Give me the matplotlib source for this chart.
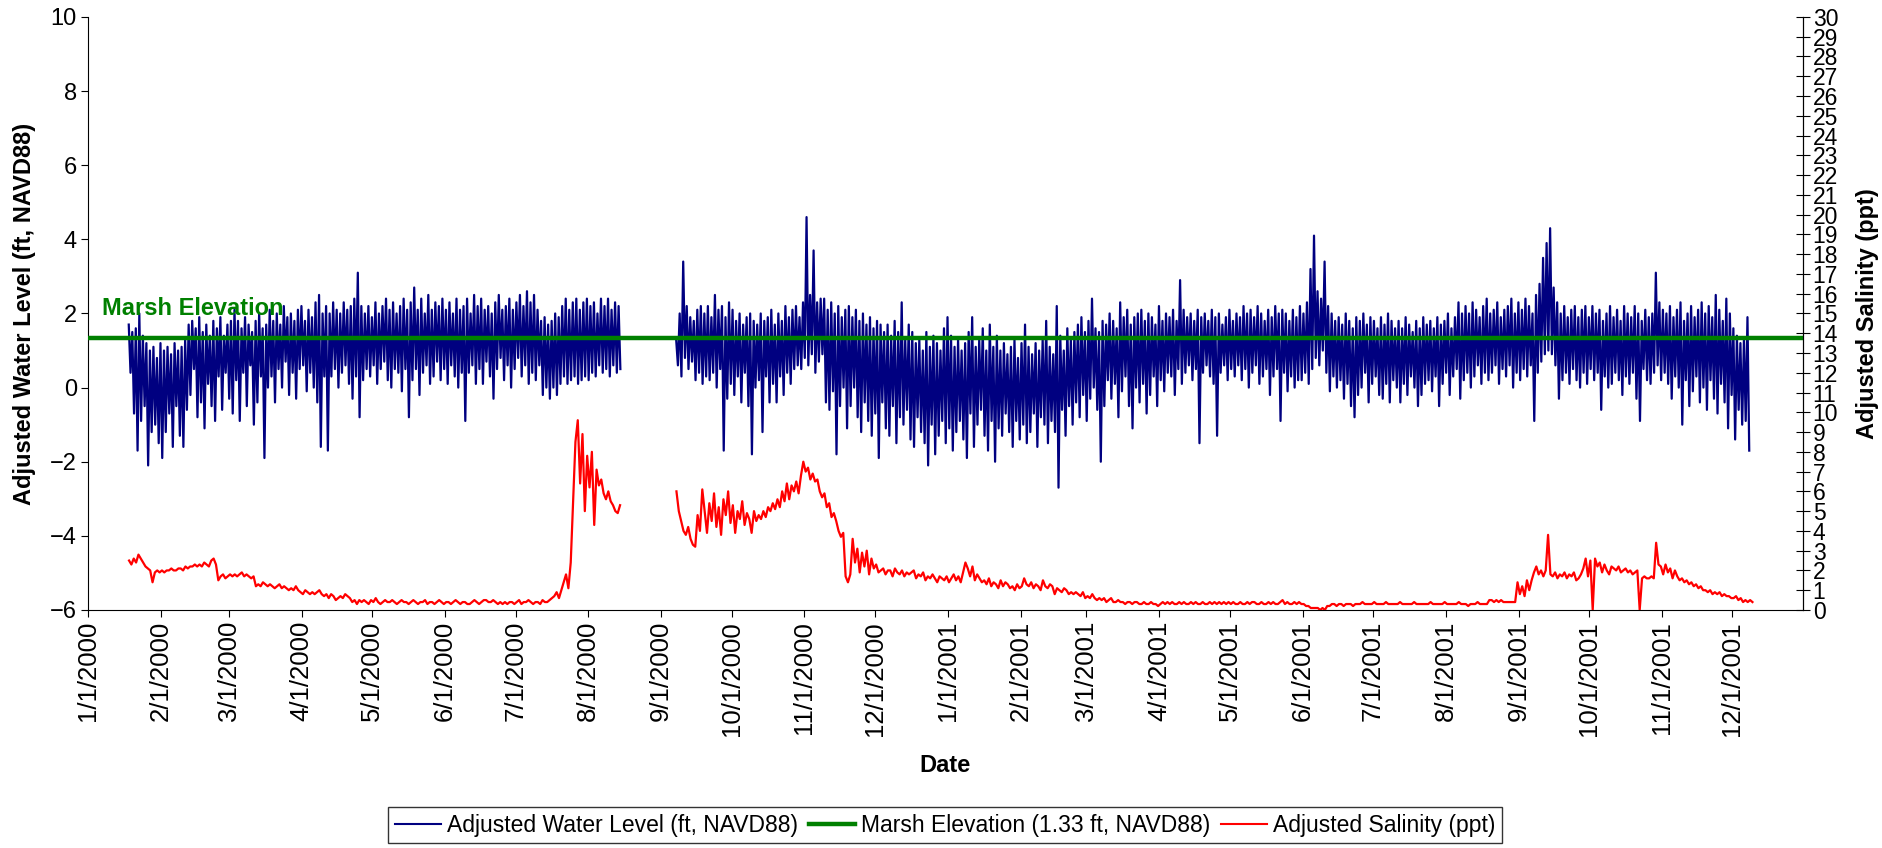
import numpy as np
import matplotlib
matplotlib.use('Agg')
import matplotlib.pyplot as plt
import matplotlib.dates as mdates
from matplotlib.lines import Line2D
from matplotlib.ticker import FuncFormatter, MultipleLocator

plt.rcParams['font.family'] = ['Liberation Sans', 'DejaVu Sans']

# ---- water level (ft, NAVD88): one high and one low per 36-hour block ----
wl1_start = '2000-01-18'
wl1_high = [
    1.7, 1.5, 1.6, 2.0, 1.4, 1.2, 1.0, 1.1, 0.8, 1.2, 1.0, 1.1, 0.9, 1.2, 1.0, 1.1, 1.3, 1.7, 1.8, 1.6,
    1.9, 1.5, 1.7, 1.4, 1.8, 1.6, 1.9, 1.4, 1.7, 1.8, 2.1, 1.8, 1.6, 1.9, 1.7, 1.5, 1.8, 2.0, 1.6, 1.7,
    2.1, 1.8, 2.0, 1.7, 2.2, 1.9, 2.0, 1.8, 2.1, 2.2, 1.8, 2.1, 1.9, 2.3, 2.5, 2.0, 2.2, 2.0, 2.3, 2.1,
    2.0, 2.3, 2.1, 2.2, 2.4, 3.1, 2.2, 2.0, 2.2, 1.9, 2.3, 2.0, 2.2, 2.4, 2.1, 2.3, 2.0, 2.2, 2.4, 2.1,
    2.3, 2.7, 2.1, 2.4, 2.0, 2.5, 2.1, 2.3, 2.2, 2.4, 2.1, 2.3, 2.0, 2.4, 2.1, 2.2, 2.4, 2.0, 2.5, 2.2,
    2.4, 2.1, 2.2, 2.0, 2.3, 2.5, 2.1, 2.2, 2.4, 2.1, 2.3, 2.5, 2.2, 2.6, 2.3, 2.5, 2.1, 1.8, 1.9, 1.7,
    1.8, 2.0, 1.9, 2.2, 2.4, 2.1, 2.3, 2.4, 2.1, 2.3, 2.4, 2.2, 2.3, 2.0, 2.4, 2.2, 2.4, 2.1, 2.3, 2.2,
]
wl1_low = [
    0.4, -0.7, -1.7, -0.9, -0.5, -2.1, -1.2, -1.0, -1.5, -1.9, -1.2, -0.7, -1.6, -0.5, -1.3, -1.6, -0.6, -0.2, 0.5, -0.8,
    -0.4, -1.1, 0.1, -0.5, -0.9, 0.3, -0.6, 0.4, -0.3, -0.7, 0.2, -0.9, 0.4, -0.5, 0.6, -1.0, -0.4, 0.3, -1.9, 0.0,
    0.3, -0.4, 0.5, 0.0, 0.7, -0.2, 0.4, -0.3, 0.5, 0.6, -0.1, 0.4, 0.0, -0.4, -1.6, 0.3, -1.7, 0.3, 0.5, 0.0,
    0.4, 0.6, 0.1, -0.3, 0.3, -0.8, 0.2, 0.5, 0.3, 0.6, 0.1, 0.5, 0.7, 0.2, 0.0, 0.5, 0.4, -0.1, 0.5, -0.8,
    0.2, 0.5, -0.2, 0.4, 0.6, 0.1, 0.3, 0.7, 0.2, 0.5, 0.1, 0.6, 0.3, 0.0, 0.4, -0.9, 0.4, 0.6, 0.1, 0.5,
    0.1, 0.7, 0.3, -0.3, 0.5, 0.8, 0.2, 0.6, 0.0, 0.5, 0.8, 0.3, 0.6, 0.1, 0.4, 0.2, 0.6, -0.2, 0.0, -0.3,
    0.0, -0.2, 0.1, 0.3, 0.1, 0.2, 0.3, 0.1, 0.2, 0.3, 0.2, 0.4, 0.3, 0.6, 0.4, 0.5, 0.3, 0.6, 0.4, 0.5,
]

wl2_start = '2000-09-07'
wl2_high = [
    1.3, 2.0, 3.4, 2.2, 1.9, 1.8, 2.1, 2.2, 2.0, 2.2, 1.9, 2.5, 2.1, 2.2, 1.9, 2.3, 2.1, 1.8, 2.0, 1.7,
    1.9, 2.0, 1.8, 1.7, 2.0, 1.8, 1.9, 2.1, 1.7, 2.0, 1.8, 2.2, 1.9, 2.1, 2.2, 1.9, 2.3, 4.6, 2.5, 3.7,
    2.3, 2.4, 2.4, 2.1, 2.3, 2.0, 2.2, 1.9, 2.1, 2.2, 1.9, 2.1, 1.8, 2.0, 1.7, 1.9, 1.6, 1.8, 1.7, 1.5,
    1.7, 1.4, 1.8, 1.5, 2.3, 1.3, 1.7, 1.5, 1.2, 1.3, 1.0, 1.5, 1.1, 1.4, 1.2, 1.0, 1.6, 1.9, 1.4, 1.1,
    1.3, 1.0, 1.2, 1.5, 1.9, 1.1, 1.3, 1.6, 1.0, 1.7, 1.1, 1.4, 1.0, 1.2, 0.9, 1.1, 1.3, 0.8, 1.2, 1.7,
    1.1, 0.9, 1.2, 1.0, 1.3, 1.8, 1.1, 0.9, 2.2, 1.4, 1.0, 1.6, 1.3, 1.5, 1.7, 1.9, 1.5, 1.8, 2.4, 1.6,
    1.5, 1.8, 1.7, 2.0, 1.8, 1.6, 2.3, 1.9, 2.1, 1.7, 1.9, 2.0, 2.1, 1.8, 2.0, 1.9, 1.7, 2.2, 1.8, 2.0,
    1.9, 2.1, 1.8, 2.9, 2.1, 1.9, 2.0, 1.8, 2.1, 1.9, 2.0, 1.8, 2.1, 1.9, 2.0, 1.7, 1.9, 2.1, 1.8, 2.0,
    1.9, 2.2, 2.0, 2.1, 1.9, 2.2, 2.0, 1.8, 2.1, 1.9, 2.2, 2.0, 2.1, 2.0, 1.8, 2.1, 1.9, 2.2, 2.0, 2.3,
    3.2, 4.1, 2.6, 2.4, 3.4, 2.2, 2.0, 1.8, 1.9, 1.7, 2.0, 1.8, 1.6, 1.9, 1.8, 2.0, 1.7, 1.9, 1.8, 1.6,
    1.9, 1.7, 2.0, 1.8, 1.6, 1.8, 1.6, 1.9, 1.7, 1.5, 1.8, 1.6, 1.9, 1.7, 1.8, 1.6, 1.9, 1.7, 1.8, 2.0,
    1.6, 1.9, 2.3, 2.0, 2.2, 2.0, 2.3, 2.1, 1.9, 2.2, 2.4, 2.0, 2.1, 2.3, 1.9, 2.1, 2.2, 2.4, 2.0, 2.3,
    2.1, 2.4, 2.2, 2.0, 2.5, 2.8, 3.5, 3.9, 4.3, 2.7, 2.3, 2.0, 2.2, 1.9, 2.1, 2.2, 1.9, 2.1, 2.2, 1.9,
    2.2, 2.0, 2.1, 1.8, 2.0, 2.2, 1.9, 2.1, 1.8, 2.2, 2.0, 1.9, 2.2, 2.0, 1.8, 2.1, 1.9, 2.0, 3.1, 2.3,
    2.1, 2.0, 2.2, 1.9, 2.1, 2.3, 1.8, 2.0, 2.2, 1.9, 2.1, 2.3, 2.0, 2.2, 1.9, 2.5, 2.1, 1.8, 2.4, 2.0,
    1.6, 1.4, 1.2, 1.3, 1.9,
]
wl2_low = [
    0.6, 0.3, 0.8, 0.5, 0.7, 0.2, 0.4, 0.1, 0.3, 0.2, 0.4, 0.0, 0.5, -1.7, -0.3, 0.1, -0.2, 0.3, -0.4, 0.4,
    -0.5, -1.8, 0.0, 0.2, -1.2, 0.3, -0.4, 0.1, -0.4, 0.3, -0.2, 0.4, 0.1, 0.5, 0.6, 0.5, 0.8, 0.6, 0.9, 0.4,
    0.7, 0.9, -0.4, -0.6, -0.1, -1.8, -0.5, 0.0, -1.1, -0.5, 0.0, -0.8, -1.2, -0.4, -0.9, -1.3, -0.7, -1.9, -0.4, -1.1,
    -1.3, -0.5, -1.5, -0.8, -1.0, -0.6, -1.4, -1.6, -0.8, -1.2, -1.5, -2.1, -1.0, -1.8, -1.3, -0.9, -1.5, -1.1, -1.7, -1.2,
    -0.9, -1.4, -1.9, -0.7, -1.6, -1.0, -0.6, -1.3, -1.7, -0.9, -2.0, -1.1, -1.3, -0.7, -1.2, -1.6, -0.9, -1.4, -1.0, -1.5,
    -1.2, -0.7, -1.6, -0.8, -1.0, -1.5, -0.9, -1.2, -2.7, -0.6, -1.3, -0.5, -1.0, -0.4, -0.8, -0.2, -0.9, -0.3, 0.0, -0.6,
    -2.0, -0.5, 0.2, -0.3, 0.1, -0.8, -0.1, 0.3, -0.5, -1.1, 0.0, -0.4, 0.1, -0.7, -0.2, 0.3, -0.5, 0.2, -0.1, 0.4,
    0.3, -0.2, 0.5, 0.1, 0.4, 0.6, 0.2, 0.5, -1.5, 0.4, 0.6, 0.3, 0.1, -1.3, 0.4, 0.6, 0.2, 0.5, 0.3, 0.6,
    0.2, 0.5, 0.0, 0.4, 0.6, 0.1, 0.3, 0.5, -0.2, 0.3, 0.5, -0.9, 0.4, -0.1, 0.3, 0.0, 0.2, 0.2, 0.4, 0.1,
    0.5, 0.8, 0.6, 1.0, 0.4, -0.1, 0.3, 0.0, 0.2, -0.3, 0.1, -0.5, -0.8, -0.2, 0.0, 0.4, -0.4, 0.1, 0.3, -0.2,
    -0.3, 0.1, -0.4, 0.2, 0.0, -0.4, 0.1, -0.2, 0.3, 0.0, -0.5, -0.2, 0.1, 0.2, -0.1, 0.3, -0.5, 0.1, 0.4, -0.2,
    0.3, 0.5, -0.3, 0.2, 0.4, 0.0, 0.3, 0.6, 0.1, 0.4, 0.2, 0.4, 0.6, 0.1, 0.5, 0.3, 0.6, 0.0, 0.4, 0.2,
    0.5, 0.3, 0.6, -0.9, 0.4, 0.7, 0.9, 1.0, 0.9, 0.6, -0.3, 0.2, 0.4, 0.1, 0.5, 0.2, 0.0, 0.4, 0.1, 0.5,
    0.2, 0.4, -0.6, 0.3, 0.0, 0.1, 0.4, 0.2, -0.2, 0.3, 0.1, 0.4, -0.3, -0.9, 0.5, 0.2, 0.1, 0.4, 0.6, 0.2,
    0.4, 0.1, -0.3, 0.3, 0.0, -1.0, 0.2, -0.5, -0.1, 0.3, -0.4, 0.0, -0.6, 0.2, -0.3, -0.7, 0.1, -0.4, -1.1, -0.2,
    -1.4, -0.6, -1.0, -0.9, -1.7,
]

# ---- salinity (ppt), daily ----
sal1_start = '2000-01-18'
sal1 = [
    2.5, 2.3, 2.6, 2.4, 2.8, 2.6, 2.4, 2.2, 2.1, 2.0,
    1.4, 1.9, 2.0, 1.9, 2.0, 1.9, 2.0, 2.0, 2.1, 2.0,
    2.0, 2.1, 2.1, 2.0, 2.2, 2.1, 2.2, 2.2, 2.3, 2.2,
    2.3, 2.2, 2.4, 2.3, 2.2, 2.5, 2.6, 2.3, 1.5, 1.7,
    1.8, 1.6, 1.7, 1.8, 1.7, 1.8, 1.7, 1.8, 1.9, 1.7,
    1.8, 1.7, 1.6, 1.7, 1.2, 1.3, 1.2, 1.4, 1.3, 1.2,
    1.3, 1.2, 1.1, 1.2, 1.3, 1.1, 1.2, 1.1, 1.0, 1.1,
    1.0, 1.2, 1.0, 0.9, 0.8, 1.0, 0.9, 0.8, 0.9, 0.8,
    0.9, 1.0, 0.8, 0.7, 0.8, 0.6, 0.8, 0.7, 0.5, 0.6,
    0.7, 0.6, 0.8, 0.7, 0.6, 0.4, 0.5, 0.3, 0.5, 0.4,
    0.5, 0.4, 0.3, 0.5, 0.4, 0.6, 0.4, 0.3, 0.4, 0.5,
    0.4, 0.4, 0.5, 0.4, 0.3, 0.4, 0.5, 0.4, 0.4, 0.3,
    0.4, 0.5, 0.4, 0.3, 0.4, 0.4, 0.5, 0.3, 0.4, 0.4,
    0.3, 0.4, 0.5, 0.4, 0.3, 0.4, 0.4, 0.3, 0.4, 0.5,
    0.4, 0.3, 0.4, 0.4, 0.3, 0.3, 0.4, 0.5, 0.4, 0.3,
    0.4, 0.5, 0.5, 0.4, 0.4, 0.5, 0.4, 0.3, 0.4, 0.3,
    0.4, 0.3, 0.4, 0.4, 0.3, 0.4, 0.5, 0.3, 0.4, 0.4,
    0.5, 0.4, 0.3, 0.4, 0.4, 0.3, 0.5, 0.4, 0.4, 0.5,
    0.6, 0.7, 0.9, 0.6, 1.0, 1.4, 1.8, 1.1, 2.4, 5.5,
    8.5, 9.6, 6.4, 8.9, 5.0, 7.8, 6.2, 8.0, 4.3, 7.1,
    6.3, 6.6, 5.9, 5.6, 6.0, 5.5, 5.3, 5.0, 4.9, 5.3,
]
sal2_start = '2000-09-07'
sal2 = [
    6.0, 5.0, 4.5, 4.0, 3.8, 4.2, 3.6, 3.3, 3.2, 4.8,
    4.0, 6.1, 5.0, 3.9, 5.4, 4.5, 5.9, 4.2, 5.2, 3.8,
    5.6, 4.8, 6.0, 4.4, 5.3, 3.9, 5.0, 4.6, 5.5, 4.3,
    4.9, 4.6, 3.9, 5.0, 4.5, 4.8, 4.6, 5.0, 4.7, 5.2,
    5.0, 5.4, 5.1, 5.6, 5.2, 6.0, 5.5, 6.4, 5.6, 6.3,
    6.0, 6.5, 5.9, 6.8, 7.5, 7.0, 7.2, 6.6, 6.9, 6.5,
    6.6, 6.0, 5.7, 5.9, 5.2, 5.4, 4.7, 4.9, 4.5, 4.0,
    3.7, 3.9, 1.7, 1.4, 1.8, 3.6, 2.4, 3.1, 1.9, 2.9,
    2.2, 3.0, 1.8, 2.6, 2.1, 2.3, 1.9, 2.0, 2.1, 1.8,
    2.0, 2.0, 1.7, 2.1, 1.9, 1.8, 2.0, 1.7, 1.9, 1.8,
    1.9, 2.0, 1.6, 1.8, 1.7, 1.9, 1.5, 1.7, 1.6, 1.8,
    1.6, 1.4, 1.7, 1.6, 1.5, 1.7, 1.4, 1.6, 1.8, 1.5,
    1.7, 1.4, 1.9, 2.4, 2.1, 1.7, 2.2, 1.5, 1.8, 1.6,
    1.4, 1.5, 1.3, 1.6, 1.2, 1.4, 1.3, 1.1, 1.5, 1.2,
    1.4, 1.3, 1.1, 1.2, 1.0, 1.3, 1.1, 1.2, 1.6, 1.3,
    1.2, 1.4, 1.1, 1.3, 1.2, 1.0, 1.5, 1.2, 1.1, 1.3,
    1.2, 0.8, 1.1, 1.0, 0.9, 1.1, 1.0, 0.8, 0.9, 0.8,
    0.9, 0.8, 0.7, 0.9, 0.6, 0.7, 0.6, 0.8, 0.6, 0.5,
    0.6, 0.5, 0.6, 0.4, 0.5, 0.6, 0.4, 0.4, 0.5, 0.4,
    0.4, 0.3, 0.4, 0.4, 0.3, 0.4, 0.4, 0.3, 0.3, 0.4,
    0.3, 0.3, 0.4, 0.3, 0.3, 0.2, 0.3, 0.4, 0.3, 0.4,
    0.3, 0.4, 0.3, 0.3, 0.4, 0.3, 0.4, 0.3, 0.3, 0.4,
    0.3, 0.4, 0.3, 0.3, 0.4, 0.3, 0.3, 0.4, 0.3, 0.4,
    0.3, 0.4, 0.3, 0.4, 0.3, 0.4, 0.3, 0.4, 0.3, 0.3,
    0.4, 0.3, 0.3, 0.4, 0.3, 0.4, 0.4, 0.3, 0.3, 0.4,
    0.3, 0.3, 0.4, 0.3, 0.4, 0.3, 0.3, 0.4, 0.5, 0.3,
    0.4, 0.3, 0.3, 0.4, 0.3, 0.4, 0.3, 0.3, 0.2, 0.2,
    0.1, 0.1, 0.1, 0.1, 0.0, 0.1, 0.0, 0.2, 0.2, 0.3,
    0.3, 0.2, 0.3, 0.3, 0.2, 0.3, 0.3, 0.3, 0.2, 0.3,
    0.3, 0.3, 0.4, 0.3, 0.3, 0.3, 0.3, 0.4, 0.3, 0.3,
    0.3, 0.3, 0.4, 0.3, 0.3, 0.3, 0.3, 0.3, 0.4, 0.3,
    0.3, 0.3, 0.3, 0.3, 0.4, 0.3, 0.3, 0.3, 0.3, 0.3,
    0.3, 0.4, 0.3, 0.3, 0.3, 0.3, 0.3, 0.4, 0.3, 0.3,
    0.3, 0.3, 0.3, 0.4, 0.3, 0.3, 0.3, 0.2, 0.3, 0.3,
    0.3, 0.4, 0.3, 0.3, 0.3, 0.3, 0.5, 0.5, 0.4, 0.5,
    0.4, 0.5, 0.4, 0.4, 0.4, 0.4, 0.4, 0.4, 1.4, 0.8,
    1.2, 0.7, 1.5, 1.0, 1.5, 1.9, 2.2, 1.8, 2.0, 1.7,
    2.0, 3.8, 1.8, 1.7, 1.9, 1.6, 1.8, 1.7, 1.9, 1.6,
    1.8, 1.7, 1.9, 1.5, 1.6, 1.8, 2.1, 2.6, 1.7, 2.5,
    0.0, 2.6, 2.2, 2.4, 1.9, 2.3, 2.0, 1.8, 2.2, 2.1,
    2.0, 2.2, 1.9, 2.0, 2.1, 1.9, 2.0, 1.8, 1.9, 2.0,
    0.0, 1.6, 1.7, 1.6, 1.6, 1.7, 1.6, 3.4, 2.3, 2.2,
    1.8, 2.3, 1.9, 2.1, 1.6, 2.0, 1.7, 1.5, 1.6, 1.4,
    1.5, 1.3, 1.4, 1.2, 1.3, 1.1, 1.2, 1.0, 1.0, 0.9,
    1.0, 0.8, 0.9, 0.8, 0.9, 0.7, 0.8, 0.7, 0.7, 0.6,
    0.6, 0.7, 0.5, 0.6, 0.4, 0.5, 0.4, 0.5, 0.4,
]

marsh_elev = 1.33


def tidal_series(start, high, low):
    # high early in each 36-hour block, low late in it
    blocks = np.datetime64(start, 'h') + np.arange(len(high)) * np.timedelta64(36, 'h')
    t = np.empty(2 * len(high), dtype='datetime64[h]')
    t[0::2] = blocks + np.timedelta64(9, 'h')
    t[1::2] = blocks + np.timedelta64(27, 'h')
    v = np.empty(2 * len(high))
    v[0::2] = high
    v[1::2] = low
    return t, v


def daily_series(start, values):
    t = np.datetime64(start, 'h') + np.arange(len(values)) * np.timedelta64(24, 'h')
    return t + np.timedelta64(12, 'h'), np.array(values)


fig = plt.figure(figsize=(18.83, 8.48), dpi=100)
ax = fig.add_axes([0.0467, 0.2807, 0.9108, 0.6993])
ax2 = ax.twinx()

wl_color = '#000080'
marsh_color = '#008000'
sal_color = '#ff0000'

for start, hi, lo in [(wl1_start, wl1_high, wl1_low), (wl2_start, wl2_high, wl2_low)]:
    t, v = tidal_series(start, hi, lo)
    ax.plot(t, v, color=wl_color, lw=1.6, zorder=2)

ax.axhline(marsh_elev, color=marsh_color, lw=3.2, zorder=3)
ax.text(np.datetime64('2000-01-07'), 1.95, 'Marsh Elevation', color=marsh_color,
        fontsize=17, fontweight='bold', ha='left', va='baseline', zorder=4)

for start, s in [(sal1_start, sal1), (sal2_start, sal2)]:
    t, v = daily_series(start, s)
    ax2.plot(t, v, color=sal_color, lw=1.6)

ax.set_xlim(np.datetime64('2000-01-01'), np.datetime64('2001-12-31'))
ax.set_ylim(-6, 10)
ax2.set_ylim(0, 30)

ax.yaxis.set_major_locator(MultipleLocator(2))
ax2.yaxis.set_major_locator(MultipleLocator(1))
ax.xaxis.set_major_locator(mdates.MonthLocator())
ax.xaxis.set_major_formatter(FuncFormatter(
    lambda x, pos: '{d.month}/{d.day}/{d.year}'.format(d=mdates.num2date(x))))

ax.tick_params(axis='y', direction='out', length=5, labelsize=17, pad=3)
ax.tick_params(axis='x', direction='out', length=5, labelsize=18.5, pad=3,
               labelrotation=90)
ax2.tick_params(axis='y', direction='inout', length=10, labelsize=16.5, pad=2)

for a in (ax, ax2):
    a.spines['top'].set_visible(False)
ax2.spines['left'].set_visible(False)
ax2.spines['bottom'].set_visible(False)

ax.set_ylabel('Adjusted Water Level (ft, NAVD88)', fontsize=17, fontweight='bold')
ax.yaxis.set_label_coords(-0.030, 0.5)
ax2.set_ylabel('Adjusted Salinity (ppt)', fontsize=17, fontweight='bold')
ax2.yaxis.set_label_coords(1.031, 0.5)
ax.set_xlabel('Date', fontsize=17, fontweight='bold')
ax.xaxis.set_label_coords(0.5, -0.243)

handles = [
    Line2D([], [], color=wl_color, lw=1.5),
    Line2D([], [], color=marsh_color, lw=3.2),
    Line2D([], [], color=sal_color, lw=1.5),
]
labels = ['Adjusted Water Level (ft, NAVD88)',
          'Marsh Elevation (1.33 ft, NAVD88)',
          'Adjusted Salinity (ppt)']
leg = fig.legend(handles, labels, loc='center', bbox_to_anchor=(0.502, 0.027),
                 ncol=3, fontsize=16.5, frameon=True, fancybox=False,
                 handlelength=2.0, handletextpad=0.25, columnspacing=0.5,
                 borderpad=0.3)
leg.get_frame().set_edgecolor('black')
leg.get_frame().set_linewidth(1.0)

fig.savefig('out.png', dpi=100)
